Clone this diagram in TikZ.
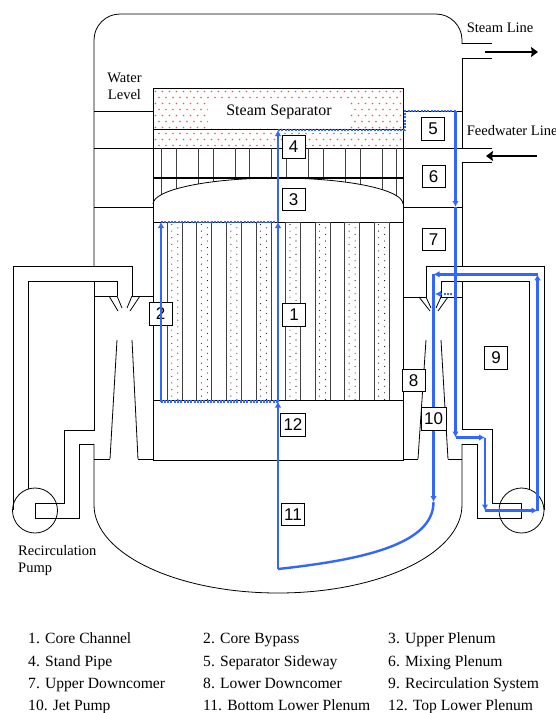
\documentclass[tikz,border=0pt]{standalone}
\usepackage{fontspec}
\setmainfont{Liberation Serif}
\newfontfamily\numfont{Liberation Sans}
\usetikzlibrary{arrows.meta}
\definecolor{flowblue}{RGB}{51,102,255}
\definecolor{dotred}{RGB}{255,80,80}
\tikzset{
  wall/.style={line width=0.8pt, draw=black},
  strip/.style={line width=0.8pt, draw=black!75},
  lbl/.style={draw=black, fill=white, line width=0.8pt, inner sep=3pt, minimum width=23pt, minimum height=22.5pt, font=\numfont\fontsize{17}{17}\selectfont},
  txt/.style={font=\fontsize{14.5}{17}\selectfont, inner sep=0pt},
  legtxt/.style={font=\fontsize{15.6}{17}\selectfont, inner sep=0pt, anchor=base west},
  fl/.style={draw=flowblue, line width=2.4pt, -{Latex[length=6pt,width=6.5pt]}},
  fld/.style={draw=flowblue, line width=2.4pt, dash pattern=on 2pt off 1.3pt},
  flda/.style={draw=flowblue, line width=2.4pt, dash pattern=on 2pt off 1.3pt, -{Latex[length=6pt,width=6.5pt]}},
  bigarrow/.style={line width=1.6pt, draw=black, -{Stealth[length=7pt,width=10pt,inset=1pt]}},
}
\begin{document}
\begin{tikzpicture}[x=1pt,y=-1pt]
\useasboundingbox (0,0) rectangle (555,713);
\fill[white] (0,0) rectangle (555,713);

% ---- steam separator stipple
\begin{scope}
\clip (153,88) rectangle (403,148);
\foreach \j in {0,...,9}{
  \foreach \i in {0,...,36}{
    \pgfmathsetmacro\xx{155.5+7*\i+3.5*mod(\j,2)}
    \pgfmathsetmacro\yy{91.5+6*\j}
    \fill[dotred] (\xx,\yy) circle[radius=0.9];
  }
}
\end{scope}
\fill[white] (208,100) rectangle (350,128);
\node[font=\fontsize{16}{16}\selectfont, inner sep=0pt] (ss) at (279,112) {Steam Separator};
\draw[wall] (153,88) rectangle (403,148);
\draw[wall] (153,129) -- (403,129);

% ---- vessel upper
\draw[wall, rounded corners=26pt] (94,266) -- (94,14) -- (462,14) -- (462,44);
\draw[wall] (462,43) -- (492,43);
\draw[wall] (492,58) -- (462,58) -- (462,148);
\draw[wall] (403,148) -- (492,148);
\draw[wall] (492,162) -- (462,162) -- (462,266);

% downcomer separations
\draw[wall] (94,111) -- (153,111);
\draw[wall] (94,148) -- (153,148);
\draw[wall] (94,207) -- (153,207);
\draw[wall] (403,111) -- (462,111);
\draw[wall] (403,207) -- (462,207);

% shroud
\draw[wall] (153,148) -- (153,460);
\draw[wall] (403,148) -- (403,460);

% stand pipes
\begin{scope}
\clip (153,148) -- (153,204) .. controls (153,189.6) and (209,178) .. (278,178) .. controls (347,178) and (403,189.6) .. (403,204) -- (403,148) -- cycle;
\foreach \i in {0,...,6}{
  \pgfmathsetmacro\xa{161.7+36.7*\i}
  \draw[strip] (\xa,148) -- (\xa,205);
  \draw[strip] ({\xa+14.7},148) -- ({\xa+14.7},205);
}
\end{scope}
\draw[line width=1.7pt] (153,178) -- (403,178);
\draw[wall] (153,204) .. controls (153,189.6) and (209,178) .. (278,178) .. controls (347,178) and (403,189.6) .. (403,204);

% core
\draw[wall] (153,222) -- (403,222);
\foreach \i in {0,...,7}{
  \pgfmathsetmacro\xa{167.3+29.55*\i}
  \foreach \k in {0,...,53}{
    \pgfmathsetmacro\xd{\xa+4.5+6*mod(\k,2)}
    \pgfmathsetmacro\yd{224.5+3.3*\k}
    \fill[black] (\xd,\yd) circle[radius=0.55];
  }
  \draw[strip] (\xa,222) rectangle ({\xa+15},400);
}
\draw[wall] (153,400) rectangle (403,460);

% ---- left recirculation loop
\draw[wall] (132,296) -- (132,266) -- (13,266) -- (13,510);
\draw[wall] (117,296) -- (117,281) -- (28,281) -- (28,489);
\draw[wall] (94,281) -- (94,430) -- (64,430) -- (64,503) -- (35,503) -- (35,518) -- (79,518) -- (79,444) -- (94,444);
\draw[wall] (35,510.5) circle[radius=22.5];
\draw[wall] (94,296) -- (117,296);
\draw[wall] (132,296) -- (153,296);
\draw[wall] (109,296) -- (118,311);
\draw[wall] (117,296) -- (122,308);
\draw[wall] (140,296) -- (130,311);
\draw[wall] (132,296) -- (127,308);
\draw[wall] (117,340) -- (110,459);
\draw[wall] (132,340) -- (138,459);
\draw[wall] (94,459) -- (110,459);
\draw[wall] (138,459) -- (153,459);

% ---- right recirculation loop
\draw[wall] (426,297) -- (426,266) -- (544,266) -- (544,510);
\draw[wall] (441,297) -- (441,281) -- (529,281) -- (529,489);
\draw[wall] (462,281) -- (462,429) -- (492,429) -- (492,503) -- (521,503) -- (521,518) -- (477,518) -- (477,444) -- (462,444);
\draw[wall] (521.5,510.5) circle[radius=22.5];
\draw[wall] (403,297) -- (426,297);
\draw[wall] (441,297) -- (462,297);
\draw[wall] (419,297) -- (430,311);
\draw[wall] (426,297) -- (431,308);
\draw[wall] (448,297) -- (438,311);
\draw[wall] (441,297) -- (436,308);
\draw[wall] (426,340) -- (418,459);
\draw[wall] (441,340) -- (448,459);
\draw[wall] (403,459) -- (418,459);
\draw[wall] (448,459) -- (462,459);

% ---- bottom head
\draw[wall] (94,444) -- (94,505) .. controls (94,553.6) and (176.4,593) .. (278,593) .. controls (379.6,593) and (462,553.6) .. (462,505) -- (462,444);

% ---- steam and feedwater lines
\coordinate (stA) at (485,52);
\coordinate (stB) at (538,52);
\coordinate (fwA) at (537,156);
\coordinate (fwB) at (486,156);
\draw[bigarrow] (stA) -- (stB);
\draw[bigarrow] (fwA) -- (fwB);

% ---- texts
\node[txt, align=center] (wl) at (124.5,86) {Water\\Level};
\node[txt, anchor=west] (sl) at (466.7,28) {Steam Line};
\node[txt, anchor=west] (fw) at (466.7,131) {Feedwater Line};
\node[txt, align=left, anchor=west] (rp) at (18,561) {Recirculation\\Pump};

% box 2 lies beneath the flow line
\node[lbl] (n2) at (160.5,314) {2};

% ---- flow paths
\coordinate (pB) at (278,569);
\coordinate (pLP) at (278,401.5);
\coordinate (pCT) at (278,222);
\coordinate (pSP) at (278,130);
\coordinate (sA) at (405,130);
\coordinate (sB) at (405,111);
\coordinate (sC) at (455.5,111);
\coordinate (dA) at (455.5,207);
\coordinate (dB) at (455.5,294);
\coordinate (dC) at (455.5,437.5);
\coordinate (jS) at (435,294);
\coordinate (rA) at (485,437.5);
\coordinate (rB) at (485,510.5);
\coordinate (rC) at (537.5,510.5);
\coordinate (rD) at (537.5,274.3);
\coordinate (rE) at (433.5,274.3);
\coordinate (jB) at (433.5,502);
\coordinate (bB) at (161,401.5);
\coordinate (bC) at (161,222);

\draw[fl] (pB) -- (pLP);
\draw[fl] (pLP) -- (pCT);
\draw[fl] (pCT) -- (pSP);
\draw[fld] (pSP) -- (sA) -- (sB) -- (sC);
\draw[fl] (sC) -- (dA);
\draw[fl] (dA) -- (dC);
\draw[flda] (dB) -- (jS);
\draw[fl] (dC) -- (rA);
\draw[fl] (rA) -- (rB);
\draw[fl] (rB) -- (rC);
\draw[fl] (rC) -- (rD);
\draw[fl] (rD) -- (rE);
\draw[fl] (rE) -- (jB);
\draw[draw=flowblue, line width=2.4pt] (jB) .. controls (433.5,545) and (360,560) .. (pB);
\draw[fld] (pLP) -- (bB);
\draw[fl] (bB) -- (bC);
\draw[fld] (bC) -- (pCT);

% ---- number boxes
\node[lbl] (n1) at (294,315) {1};
\node[lbl] (n3) at (293.5,199.5) {3};
\node[lbl] (n4) at (293.5,147) {4};
\node[lbl] (n5) at (433,129) {5};
\node[lbl] (n6) at (433.5,176.5) {6};
\node[lbl] (n7) at (433.5,239.5) {7};
\node[lbl] (n8) at (413.5,380.5) {8};
\node[lbl] (n9) at (496,358) {9};
\node[lbl] (n10) at (433.5,419) {10};
\node[lbl] (n11) at (293,514.5) {11};
\node[lbl] (n12) at (293,425) {12};

% ---- legend
\node[legtxt] (l1) at (28,643) {1. Core Channel};
\node[legtxt] (l2) at (203,643) {2. Core Bypass};
\node[legtxt] (l3) at (388,643) {3. Upper Plenum};
\node[legtxt] (l4) at (28,666) {4. Stand Pipe};
\node[legtxt] (l5) at (203,666) {5. Separator Sideway};
\node[legtxt] (l6) at (388,666) {6. Mixing Plenum};
\node[legtxt] (l7) at (28,688) {7. Upper Downcomer};
\node[legtxt] (l8) at (203,688) {8. Lower Downcomer};
\node[legtxt] (l9) at (388,688) {9. Recirculation System};
\node[legtxt] (l10) at (28,710) {10. Jet Pump};
\node[legtxt] (l11) at (203,710) {11. Bottom Lower Plenum};
\node[legtxt] (l12) at (388,710) {12. Top Lower Plenum};
\end{tikzpicture}
\end{document}
